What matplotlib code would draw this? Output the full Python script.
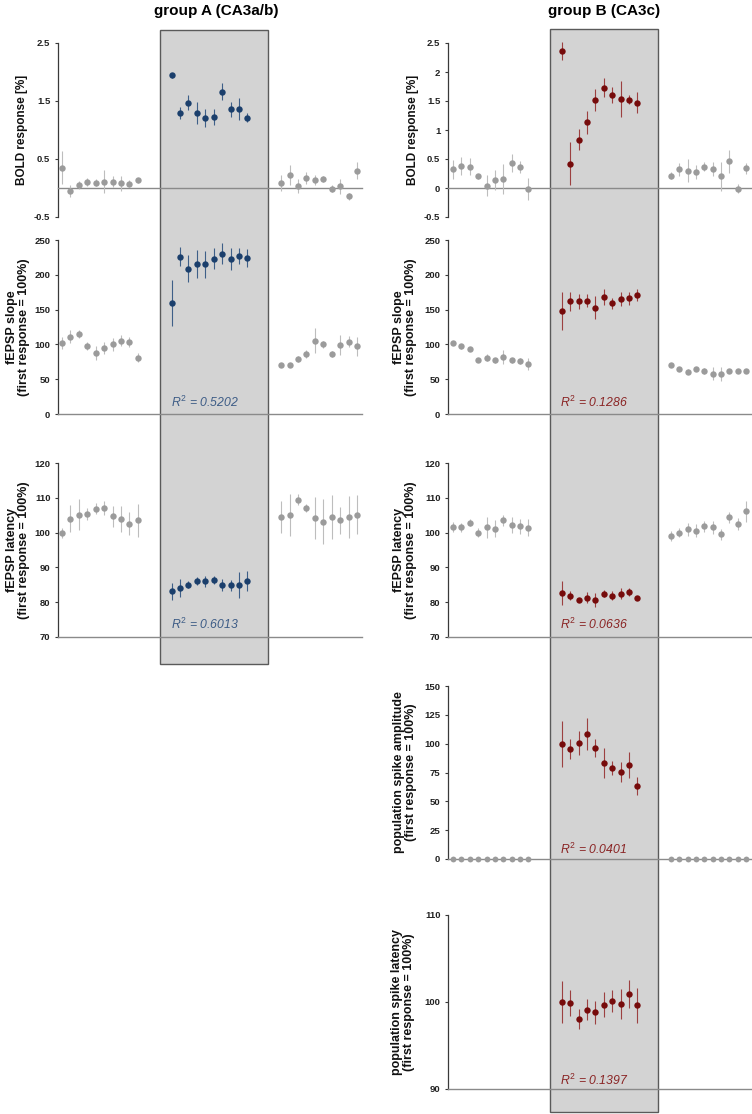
import matplotlib.pyplot as plt
import matplotlib.transforms as mtransforms
import numpy as np
from matplotlib.patches import Rectangle

plt.rcParams["font.family"] = ["Liberation Sans", "DejaVu Sans"]
plt.rcParams["mathtext.fontset"] = "custom"
plt.rcParams["mathtext.it"] = "Liberation Sans:italic"
plt.rcParams["mathtext.rm"] = "Liberation Sans"

# ---- group A (CA3a/b) ----
bold_a_pre = [0.35, -0.05, 0.05, 0.11, 0.09, 0.11, 0.11, 0.08, 0.07, 0.13]
bold_a_pre_err = [0.28, 0.10, 0.07, 0.07, 0.06, 0.20, 0.10, 0.13, 0.06, 0.05]
bold_a_stim = [1.94, 1.29, 1.47, 1.29, 1.21, 1.22, 1.66, 1.36, 1.37, 1.21]
bold_a_stim_err = [0.04, 0.10, 0.13, 0.19, 0.16, 0.14, 0.15, 0.13, 0.19, 0.08]
bold_a_post = [0.08, 0.22, 0.03, 0.17, 0.14, 0.16, -0.01, 0.03, -0.14, 0.30]
bold_a_post_err = [0.14, 0.17, 0.12, 0.10, 0.08, 0.05, 0.06, 0.13, 0.06, 0.14]

slope_a_pre = [102, 111, 115, 98, 88, 95, 100, 105, 103, 81]
slope_a_pre_err = [8, 9, 6, 6, 10, 9, 9, 8, 7, 7]
slope_a_stim = [160, 226, 209, 215, 215, 223, 230, 223, 227, 224]
slope_a_stim_err = [33, 14, 20, 20, 19, 15, 15, 16, 12, 13]
slope_a_post = [70, 70, 79, 86, 105, 100, 86, 99, 104, 97]
slope_a_post_err = [3, 3, 4, 6, 18, 5, 4, 14, 8, 14]

lat_a_pre = [99.9, 104.0, 105.2, 105.4, 106.9, 107.0, 104.7, 103.9, 102.6, 103.5]
lat_a_pre_err = [1.5, 3.8, 4.5, 1.8, 1.5, 2.0, 3.0, 3.8, 3.2, 4.8]
lat_a_stim = [83.1, 84.1, 85.0, 86.0, 86.0, 86.3, 85.0, 84.8, 85.0, 86.1]
lat_a_stim_err = [2.5, 2.5, 1.0, 1.2, 1.5, 1.2, 1.8, 1.7, 3.7, 2.8]
lat_a_post = [104.5, 105.0, 109.5, 107.1, 104.1, 103.1, 104.5, 103.5, 104.5, 105.2]
lat_a_post_err = [4.5, 6.0, 1.5, 1.2, 6.0, 6.5, 6.3, 4.0, 6.0, 5.5]

# ---- group B (CA3c) ----
bold_b_pre = [0.32, 0.38, 0.37, 0.20, 0.04, 0.14, 0.16, 0.43, 0.36, -0.02]
bold_b_pre_err = [0.17, 0.16, 0.15, 0.05, 0.18, 0.17, 0.26, 0.16, 0.10, 0.19]
bold_b_stim = [2.36, 0.42, 0.83, 1.13, 1.52, 1.73, 1.61, 1.53, 1.52, 1.47]
bold_b_stim_err = [0.16, 0.37, 0.18, 0.20, 0.19, 0.16, 0.14, 0.31, 0.08, 0.18]
bold_b_post = [0.21, 0.32, 0.30, 0.27, 0.37, 0.33, 0.20, 0.46, -0.01, 0.34]
bold_b_post_err = [0.06, 0.11, 0.20, 0.12, 0.08, 0.12, 0.25, 0.20, 0.08, 0.09]

slope_b_pre = [102, 97, 93, 78, 81, 77, 82, 77, 76, 72]
slope_b_pre_err = [3, 3, 3, 3, 5, 4, 10, 4, 4, 9]
slope_b_stim = [148, 162, 162, 163, 153, 168, 159, 165, 166, 171]
slope_b_stim_err = [27, 14, 11, 9, 16, 11, 8, 10, 9, 9]
slope_b_post = [70, 65, 61, 65, 62, 58, 57, 62, 62, 62]
slope_b_post_err = [3, 3, 3, 3, 4, 9, 10, 3, 3, 3]

lat_b_pre = [101.6, 101.5, 102.8, 100.0, 101.5, 101.1, 103.5, 102.2, 101.8, 101.4]
lat_b_pre_err = [1.5, 1.2, 1.0, 1.2, 3.0, 2.5, 1.5, 2.2, 2.2, 2.5]
lat_b_stim = [82.6, 81.9, 80.7, 81.3, 80.7, 82.4, 81.9, 82.4, 82.9, 81.2]
lat_b_stim_err = [3.5, 1.3, 0.6, 1.5, 2.0, 1.0, 1.3, 1.6, 1.2, 0.5]
lat_b_post = [99.0, 100.0, 100.9, 100.6, 101.8, 101.5, 99.5, 104.4, 102.5, 106.1]
lat_b_post_err = [1.5, 1.2, 2.0, 1.8, 1.5, 1.8, 1.5, 1.5, 1.8, 3.0]

ps_amp_b_pre = [0] * 10
ps_amp_b_stim = [100.0, 95.1, 100.3, 108.6, 96.3, 83.6, 78.7, 75.6, 81.3, 63.2]
ps_amp_b_stim_err = [20, 8.6, 10.5, 14, 8, 13, 6, 8.5, 11.5, 7.5]
ps_amp_b_post = [0] * 10

ps_lat_b_stim = [100.0, 99.9, 98.0, 99.1, 98.8, 99.7, 100.1, 99.8, 100.9, 99.6]
ps_lat_b_stim_err = [2.45, 1.5, 1.15, 1.2, 1.3, 1.4, 1.3, 1.7, 1.6, 2.0]

r2_a = ["0.5202", "0.6013"]
r2_b = ["0.1286", "0.0636", "0.0401", "0.1397"]

pre_x = np.arange(10)
stim_x = np.arange(13, 23)
post_x = np.arange(26, 36)

BLUE = "#1b3f6c"
BLUE_ERR = "#3e5f88"
BLUE_TXT = "#3d5c86"
RED = "#760b0b"
RED_ERR = "#9c4040"
RED_TXT = "#8a2424"
GRAY = "#9b9b9b"
GRAY_ERR = "#bdbdbd"

W, H = 752, 1114
fig = plt.figure(figsize=(W / 100, H / 100), dpi=100)


def add_ax(x0, x1, y_top, y_bot, xlim):
    ax = fig.add_axes([x0 / W, 1 - y_bot / H, (x1 - x0) / W, (y_bot - y_top) / H])
    ax.set_facecolor("none")
    ax.set_xlim(*xlim)
    for side in ("top", "right"):
        ax.spines[side].set_visible(False)
    ax.spines["left"].set_color("#3a3a3a")
    ax.spines["left"].set_linewidth(0.9)
    ax.spines["bottom"].set_color("#8a8a8a")
    ax.spines["bottom"].set_linewidth(1.0)
    ax.set_xticks([])
    ax.tick_params(axis="y", length=2.5, width=0.8, color="#3a3a3a", pad=3)
    return ax


def series(ax, x, y, err, color, ecolor, ms=4.6):
    ax.errorbar(x, y, yerr=err, fmt="o", color=color, ecolor=ecolor, ms=ms,
                mew=0, elinewidth=0.8, capsize=1.3, capthick=0.8, clip_on=False, zorder=3)


def yaxis(ax, lim, ticks, label, label_x, size=9):
    ax.set_ylim(*lim)
    ax.set_yticks(ticks)
    ax.set_yticklabels([f"{t:g}" for t in ticks], fontsize=6.8, fontweight="bold", color="#222222")
    ax.set_ylabel(label, fontsize=size, fontweight="bold", linespacing=1.0, va="center", color="#111111")
    ax.yaxis.set_label_coords(label_x, 0.5)


def r2(ax, x, y, value, color):
    ax.text(x, y, r"$R^2$ = " + value, fontsize=8.8, style="italic", color=color, va="center", ha="left")


def shade(ax, y_top, y_bot):
    trans = mtransforms.blended_transform_factory(ax.transData, fig.transFigure)
    rect = Rectangle((11.6, 1 - y_bot / H), 24.5 - 11.6, (y_bot - y_top) / H, transform=trans,
                     facecolor="#d3d3d3", edgecolor="#5a5a5a", linewidth=1.0, zorder=-10)
    fig.add_artist(rect)


slope_label = "fEPSP slope\n(first response = 100%)"
lat_label = "fEPSP latency\n(first response = 100%)"

# ---- left column ----
lx = (-0.47, 35.6)
a1 = add_ax(58, 362, 43, 217, lx)
yaxis(a1, (-0.5, 2.5), [-0.5, 0.5, 1.5, 2.5], "BOLD response [%]", -0.12, size=8.5)
a1.spines["bottom"].set_position(("data", 0))
series(a1, pre_x, bold_a_pre, bold_a_pre_err, GRAY, GRAY_ERR)
series(a1, stim_x, bold_a_stim, bold_a_stim_err, BLUE, BLUE_ERR)
series(a1, post_x, bold_a_post, bold_a_post_err, GRAY, GRAY_ERR)

a2 = add_ax(58, 362, 240, 414, lx)
yaxis(a2, (0, 250), [0, 50, 100, 150, 200, 250], slope_label, -0.133)
series(a2, pre_x, slope_a_pre, slope_a_pre_err, GRAY, GRAY_ERR)
series(a2, stim_x, slope_a_stim, slope_a_stim_err, BLUE, BLUE_ERR)
series(a2, post_x, slope_a_post, slope_a_post_err, GRAY, GRAY_ERR)
r2(a2, 12.9, 16, r2_a[0], BLUE_TXT)

a3 = add_ax(58, 362, 463, 637, lx)
yaxis(a3, (70, 120), [70, 80, 90, 100, 110, 120], lat_label, -0.133)
series(a3, pre_x, lat_a_pre, lat_a_pre_err, GRAY, GRAY_ERR)
series(a3, stim_x, lat_a_stim, lat_a_stim_err, BLUE, BLUE_ERR)
series(a3, post_x, lat_a_post, lat_a_post_err, GRAY, GRAY_ERR)
r2(a3, 12.9, 73.7, r2_a[1], BLUE_TXT)

shade(a1, 30, 664)

# ---- right column ----
rx = (-0.6, 35.7)
b1 = add_ax(448, 752, 43, 217, rx)
yaxis(b1, (-0.5, 2.5), [-0.5, 0, 0.5, 1, 1.5, 2, 2.5], "BOLD response [%]", -0.115, size=8.5)
b1.spines["bottom"].set_position(("data", 0))
series(b1, pre_x, bold_b_pre, bold_b_pre_err, GRAY, GRAY_ERR)
series(b1, stim_x, bold_b_stim, bold_b_stim_err, RED, RED_ERR)
series(b1, post_x, bold_b_post, bold_b_post_err, GRAY, GRAY_ERR)

b2 = add_ax(448, 752, 240, 414, rx)
yaxis(b2, (0, 250), [0, 50, 100, 150, 200, 250], slope_label, -0.14)
series(b2, pre_x, slope_b_pre, slope_b_pre_err, GRAY, GRAY_ERR)
series(b2, stim_x, slope_b_stim, slope_b_stim_err, RED, RED_ERR)
series(b2, post_x, slope_b_post, slope_b_post_err, GRAY, GRAY_ERR)
r2(b2, 12.8, 17, r2_b[0], RED_TXT)

b3 = add_ax(448, 752, 463, 637, rx)
yaxis(b3, (70, 120), [70, 80, 90, 100, 110, 120], lat_label, -0.14)
series(b3, pre_x, lat_b_pre, lat_b_pre_err, GRAY, GRAY_ERR)
series(b3, stim_x, lat_b_stim, lat_b_stim_err, RED, RED_ERR)
series(b3, post_x, lat_b_post, lat_b_post_err, GRAY, GRAY_ERR)
r2(b3, 12.8, 73.7, r2_b[1], RED_TXT)

b4 = add_ax(448, 752, 686, 859, rx)
yaxis(b4, (0, 150), [0, 25, 50, 75, 100, 125, 150],
      "population spike amplitude\n(first response = 100%)", -0.143)
series(b4, pre_x, ps_amp_b_pre, None, GRAY, GRAY_ERR, ms=4.2)
series(b4, stim_x, ps_amp_b_stim, ps_amp_b_stim_err, RED, RED_ERR)
series(b4, post_x, ps_amp_b_post, None, GRAY, GRAY_ERR, ms=4.2)
r2(b4, 12.8, 8.7, r2_b[2], RED_TXT)

b5 = add_ax(448, 752, 915, 1089, rx)
yaxis(b5, (90, 110), [90, 100, 110],
      "population spike latency\n(first response = 100%)", -0.148)
series(b5, stim_x, ps_lat_b_stim, ps_lat_b_stim_err, RED, RED_ERR)
r2(b5, 12.8, 91.0, r2_b[3], RED_TXT)

shade(b1, 29, 1112)

fig.text(216 / W, 1 - 11 / H, "group A (CA3a/b)", fontsize=11, fontweight="bold", ha="center", va="center")
fig.text(604 / W, 1 - 11 / H, "group B (CA3c)", fontsize=11, fontweight="bold", ha="center", va="center")

fig.savefig("out.png", dpi=100)
